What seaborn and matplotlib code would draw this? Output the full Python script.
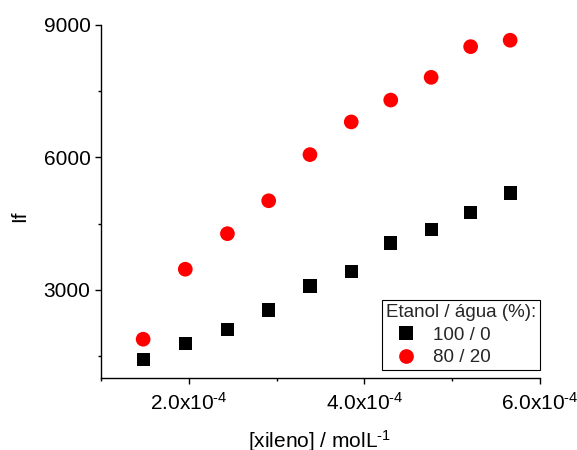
import numpy as np
import pandas as pd
import matplotlib
matplotlib.use("Agg")
import matplotlib.pyplot as plt
import seaborn as sns
from matplotlib.ticker import FixedLocator
from matplotlib.lines import Line2D

# Data
xileno = [1.48e-4, 1.96e-4, 2.44e-4, 2.91e-4, 3.38e-4, 3.85e-4, 4.30e-4, 4.76e-4, 5.21e-4, 5.66e-4]
if_100_0 = [1430, 1785, 2100, 2545, 3090, 3415, 4065, 4365, 4745, 5195]
if_80_20 = [1885, 3470, 4275, 5020, 6065, 6805, 7300, 7815, 8510, 8655]
series_labels = ["100 / 0", "80 / 20"]
legend_title = "Etanol / água (%):"
x_ticks = [2.0e-4, 4.0e-4, 6.0e-4]
x_ticklabels = ["2.0x10$^{\u20104}$", "4.0x10$^{\u20104}$", "6.0x10$^{\u20104}$"]
y_ticks = [3000, 6000, 9000]

sns.set_style("ticks")
plt.rcParams["font.family"] = ["Liberation Sans", "DejaVu Sans"]
plt.rcParams["mathtext.fontset"] = "custom"
plt.rcParams["mathtext.rm"] = "Liberation Sans"
plt.rcParams["mathtext.it"] = "Liberation Sans:italic"
plt.rcParams["mathtext.bf"] = "Liberation Sans:bold"
plt.rcParams["mathtext.default"] = "regular"

df_a = pd.DataFrame({"x": xileno, "y": if_100_0})
df_b = pd.DataFrame({"x": xileno, "y": if_80_20})

fig = plt.figure(figsize=(5.77, 4.5), dpi=100)
ax = fig.add_axes([101/577, 1 - 378.3/450, (540-101)/577, (378.3-25)/450])

sns.scatterplot(data=df_a, x="x", y="y", ax=ax, marker="s", s=90, color="black",
                edgecolor="none", linewidth=0, label=series_labels[0])
sns.scatterplot(data=df_b, x="x", y="y", ax=ax, marker="o", s=112, color="#ff0000",
                edgecolor="none", linewidth=0, label=series_labels[1])

ax.set_xlim(1.0e-4, 6.0e-4)
ax.set_ylim(1000, 9000)
ax.xaxis.set_major_locator(FixedLocator(x_ticks))
ax.set_xticklabels(x_ticklabels)
ax.xaxis.set_minor_locator(FixedLocator([1e-4, 3e-4, 5e-4]))
ax.yaxis.set_major_locator(FixedLocator(y_ticks))
ax.yaxis.set_minor_locator(FixedLocator([1500, 4500, 7500]))

for s in ["top", "right"]:
    ax.spines[s].set_visible(False)
for s in ["left", "bottom"]:
    ax.spines[s].set_linewidth(1.0)
    ax.spines[s].set_color("black")

ax.tick_params(axis="both", which="major", direction="out", length=4.5, width=1.0,
               labelsize=15, color="black", labelcolor="black")
ax.tick_params(axis="both", which="minor", direction="out", length=2.5, width=1.0, color="black")
ax.tick_params(axis="x", which="major", pad=5)
ax.tick_params(axis="y", which="major", pad=3)

ax.set_xlabel("[xileno] / molL$^{\u20101}$", fontsize=15, color="black")
ax.set_ylabel("If", fontsize=15, color="black")
ax.xaxis.set_label_coords(0.497, -0.14)
ax.yaxis.set_label_coords(-0.164, 0.46)

handles = [
    Line2D([], [], marker="s", linestyle="none", color="black", markersize=9.5, markeredgewidth=0),
    Line2D([], [], marker="o", linestyle="none", color="#ff0000", markersize=10.6, markeredgewidth=0),
]
leg = ax.legend(handles, series_labels, title=legend_title, loc="lower right",
                bbox_to_anchor=(1.0, (378.3-370)/353.3), fontsize=13.5, title_fontsize=13.5,
                frameon=True, fancybox=False, edgecolor="black", framealpha=1,
                borderpad=0.2, labelspacing=0.3, handletextpad=0.42, handlelength=2.1,
                borderaxespad=0, alignment="left")
leg.get_frame().set_linewidth(0.8)

fig.savefig("out.png", dpi=100)
